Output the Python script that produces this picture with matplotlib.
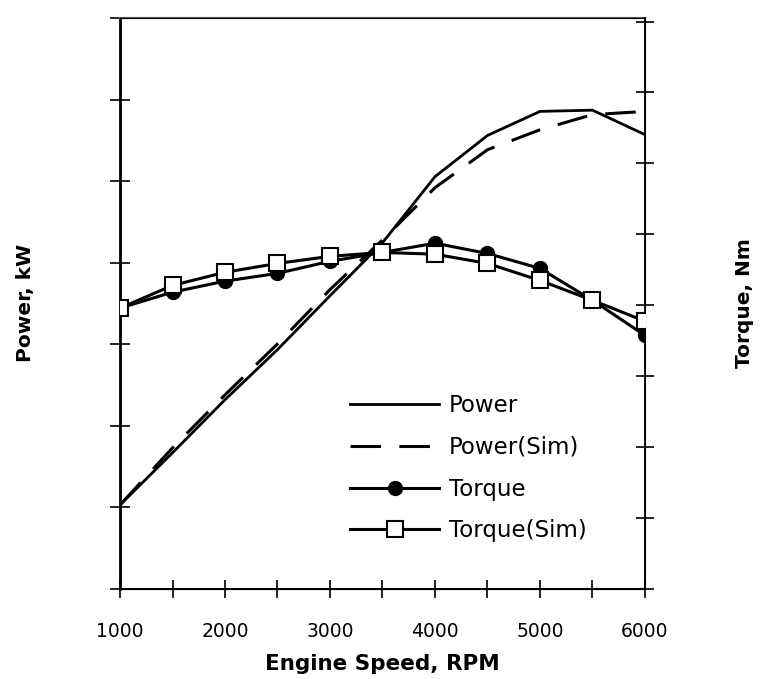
import matplotlib
matplotlib.use("Agg")
import matplotlib.pyplot as plt
from matplotlib.ticker import MultipleLocator, FuncFormatter

plt.rcParams['font.family'] = ['DejaVu Sans']

rpm = [1000, 1500, 2000, 2500, 3000, 3500, 4000, 4500, 5000, 5500, 6000]
power = [20.6, 33.4, 46.4, 58.7, 71.9, 84.9, 101.1, 111.2, 117.1, 117.4, 111.4]
power_sim = [20.6, 34.6, 47.6, 60.1, 73.4, 85.6, 98.4, 107.7, 112.6, 116.3, 117.1]
torque = [79.2, 83.7, 86.8, 89.0, 92.4, 94.9, 97.5, 94.6, 90.4, 81.4, 71.5]
torque_sim = [79.2, 85.6, 89.3, 91.8, 93.8, 94.9, 94.4, 91.8, 87.0, 81.4, 75.5]

fig = plt.figure(figsize=(7.6, 6.79), dpi=100)
ax = fig.add_axes([120/760, 1-589/679, 525/760, 571/679])
ax2 = ax.twinx()

l1, = ax.plot(rpm, power, color='black', lw=2.0, label='Power')
l2, = ax.plot(rpm, power_sim, color='black', lw=2.2, dashes=(10, 6), label='Power(Sim)')
l3, = ax2.plot(rpm, torque, color='black', lw=2.2, marker='o', markersize=10,
               markerfacecolor='black', label='Torque', zorder=3)
l4, = ax2.plot(rpm, torque_sim, color='black', lw=2.2, marker='s', markersize=11,
               markerfacecolor='white', markeredgecolor='black', markeredgewidth=1.5,
               label='Torque(Sim)', zorder=4)

ax.set_xlim(1000, 6000)
ax.set_ylim(0, 140)
ax2.set_ylim(0, 161)

ax.xaxis.set_major_locator(MultipleLocator(500))
ax.xaxis.set_major_formatter(FuncFormatter(lambda v, p: f"{int(v)}" if int(v) % 1000 == 0 else ""))
ax.yaxis.set_major_locator(MultipleLocator(20))
ax2.yaxis.set_major_locator(MultipleLocator(20))
ax.tick_params(axis='y', direction='inout', length=14, width=1.2, labelleft=False)
ax2.tick_params(axis='y', direction='inout', length=13, width=1.2, labelright=False)
ax.tick_params(axis='x', direction='inout', length=13, width=1.2, labelsize=13.5, pad=17)

ax.spines['left'].set_linewidth(2.0)
for s in ['bottom', 'top']:
    ax.spines[s].set_linewidth(1.5)
ax2.spines['right'].set_linewidth(1.3)
ax.spines['top'].set_color('#555555')

fig.text(382/760, 1-664/679, 'Engine Speed, RPM', fontsize=15.5, fontweight='bold',
         ha='center', va='center')
fig.text(25/760, 1-303/679, 'Power, kW', rotation=90, fontsize=14.5, fontweight='bold',
         ha='center', va='center')
fig.text(745/760, 1-303/679, 'Torque, Nm', rotation=90, fontsize=14.5, fontweight='bold',
         ha='center', va='center')

leg = ax.legend(handles=[l1, l2, l3, l4], loc='upper left',
                bbox_to_anchor=(350/760, 1-394/679), bbox_transform=fig.transFigure,
                frameon=False, fontsize=16.5, handlelength=3.9, handletextpad=0.4,
                labelspacing=0.82, borderpad=0, borderaxespad=0)

fig.savefig('out.png', dpi=100)
